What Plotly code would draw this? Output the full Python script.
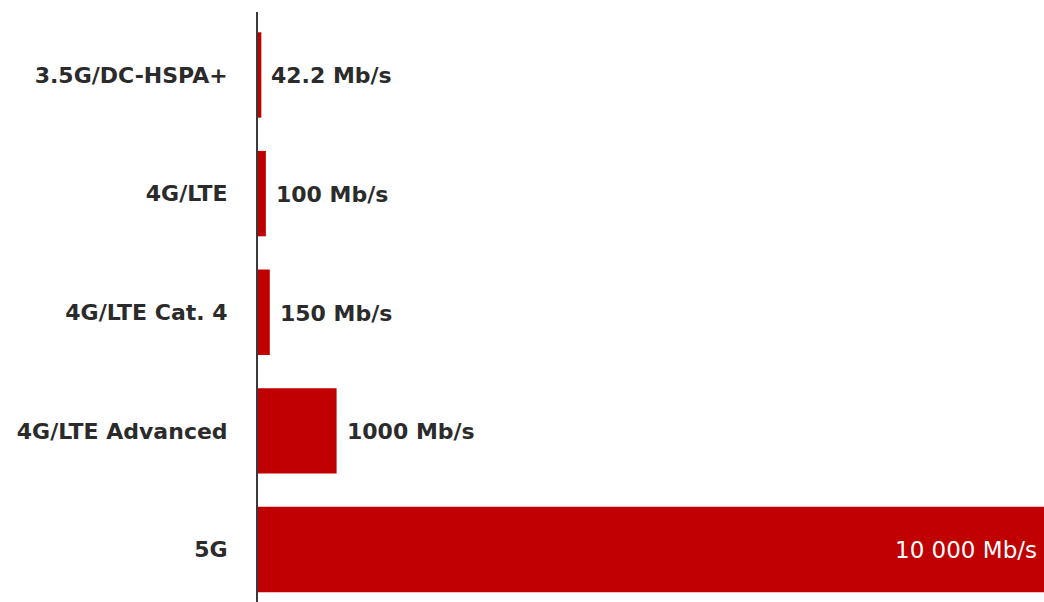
import plotly.graph_objects as go

categories = ["3.5G/DC-HSPA+", "4G/LTE", "4G/LTE Cat. 4", "4G/LTE Advanced", "5G"]
speeds = [42.2, 100, 150, 1000, 10000]
value_labels = ["42.2 Mb/s", "100 Mb/s", "150 Mb/s", "1000 Mb/s", "10 000 Mb/s"]

RED = "#C00000"
TEXT = "#2b2b2b"
FONT = "DejaVu Sans"

fig = go.Figure()
fig.add_trace(go.Bar(
    x=speeds, y=categories, orientation="h",
    marker=dict(color=RED, line=dict(width=0)),
    width=0.72, hoverinfo="skip",
))

xmax = max(speeds)
for cat, v, lab in zip(categories, speeds, value_labels):
    inside = v >= 0.5 * xmax
    fig.add_annotation(
        x=v, y=cat, text=lab, showarrow=False,
        xanchor="right" if inside else "left",
        xshift=-5 if inside else 8,
        yshift=-1,
        font=dict(family=FONT, size=23 if inside else 22,
                  color="white" if inside else TEXT,
                  weight="normal" if inside else "bold"),
    )

fig.update_layout(
    width=1044, height=602,
    margin=dict(l=258, r=0, t=12, b=0),
    paper_bgcolor="white", plot_bgcolor="white",
    showlegend=False,
    xaxis=dict(range=[0, xmax], visible=False, fixedrange=True),
    yaxis=dict(
        type="category", categoryorder="array", categoryarray=categories,
        range=[4.443, -0.531], autorange=False,
        showline=True, linecolor="#3a3a3a", linewidth=2,
        showgrid=False, zeroline=False, ticks="",
        ticklabelstandoff=24,
        tickfont=dict(family=FONT, size=22, color=TEXT, weight="bold"),
    ),
)

fig.write_html(
    "out.html",
    config={"displayModeBar": False, "staticPlot": True},
    post_script="document.body.style.margin='0';document.body.style.overflow='hidden';",
)
